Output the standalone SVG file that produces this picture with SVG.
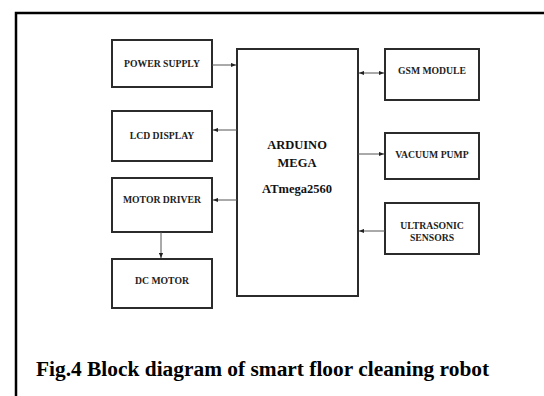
<svg xmlns="http://www.w3.org/2000/svg" width="544" height="396" viewBox="0 0 544 396">
<style>
.box{fill:#fff;stroke:#2b2b2b;stroke-width:2}
.lbl{font-family:"Liberation Serif","Times New Roman",serif;font-weight:bold;font-size:9.7px;fill:#222;text-anchor:middle}
.big{font-family:"Liberation Serif","Times New Roman",serif;font-weight:bold;font-size:12.5px;fill:#111;text-anchor:middle}
.cap{font-family:"Liberation Serif","Times New Roman",serif;font-weight:bold;font-size:21.4px;fill:#000}
.con{stroke:#555;stroke-width:1;fill:none}
</style>
<defs>
<marker id="ah" viewBox="0 0 6 6" refX="6" refY="3" markerWidth="5" markerHeight="5" orient="auto-start-reverse" markerUnits="userSpaceOnUse">
<path d="M0,0.5 L6,3 L0,5.5 Z" fill="#222"/>
</marker>
</defs>
<rect width="544" height="396" fill="#fff"/>
<path d="M16,396 V13 H544" fill="none" stroke="#000" stroke-width="2.5"/>
<g id="power"><rect class="box" x="112" y="40" width="100" height="47"/><text class="lbl" x="162" y="67">POWER SUPPLY</text></g>
<g id="lcd"><rect class="box" x="112" y="111" width="100" height="50"/><text class="lbl" x="162" y="139">LCD DISPLAY</text></g>
<g id="motordriver"><rect class="box" x="112" y="178" width="100" height="54"/><text class="lbl" x="162" y="203">MOTOR DRIVER</text></g>
<g id="dcmotor"><rect class="box" x="112" y="259" width="100" height="49"/><text class="lbl" x="162" y="284">DC MOTOR</text></g>
<g id="arduino"><rect class="box" x="237" y="49" width="121" height="247"/>
<text class="big" x="297" y="149">ARDUINO</text><text class="big" x="297" y="167">MEGA</text><text class="big" x="297" y="193">ATmega2560</text></g>
<g id="gsm"><rect class="box" x="385" y="49" width="94" height="51"/><text class="lbl" x="432" y="74">GSM MODULE</text></g>
<g id="vacuum"><rect class="box" x="385" y="133" width="94" height="46"/><text class="lbl" x="432" y="158">VACUUM PUMP</text></g>
<g id="ultra"><rect class="box" x="385" y="203" width="94" height="51"/><text class="lbl" x="432" y="229">ULTRASONIC</text><text class="lbl" x="432" y="241">SENSORS</text></g>
<g id="connectors">
<line class="con" x1="212" y1="65" x2="236" y2="65" marker-end="url(#ah)"/>
<line class="con" x1="237" y1="130" x2="213" y2="130" marker-end="url(#ah)"/>
<line class="con" x1="237" y1="200" x2="213" y2="200" marker-end="url(#ah)"/>
<line class="con" x1="161" y1="232" x2="161" y2="258" marker-end="url(#ah)"/>
<line class="con" x1="359" y1="73" x2="384" y2="73" marker-start="url(#ah)" marker-end="url(#ah)"/>
<line class="con" x1="358" y1="154" x2="384" y2="154" marker-end="url(#ah)"/>
<line class="con" x1="385" y1="231" x2="359" y2="231" marker-end="url(#ah)"/>
</g>
<text class="cap" x="36" y="376">Fig.4 Block diagram of smart floor cleaning robot</text>
</svg>
